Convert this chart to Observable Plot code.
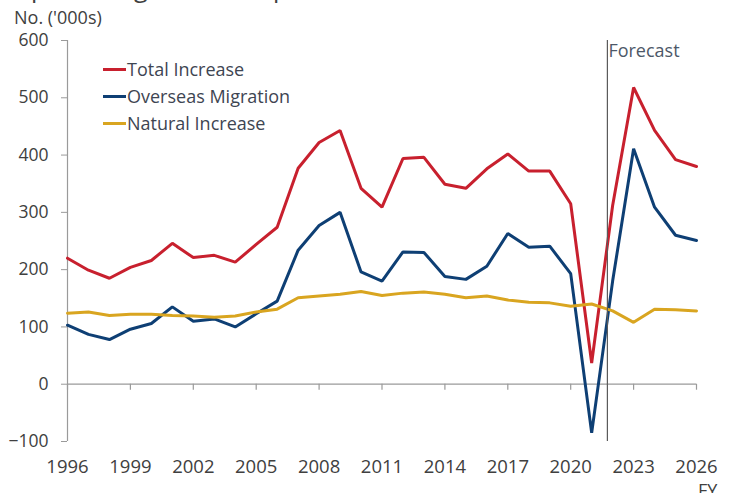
<!DOCTYPE html>
<html>
<head>
<meta charset="utf-8">
<script src="https://cdn.jsdelivr.net/npm/d3@7"></script>
<script src="https://cdn.jsdelivr.net/npm/@observablehq/plot@0.6"></script>
<style>
  html, body { margin: 0; padding: 0; background: #fff; }
  #wrap { position: relative; width: 729px; height: 493px; overflow: hidden; font-family: "Open Sans", sans-serif; color: #404040; }
  #wrap svg { position: absolute; left: 0; top: 0; }
  .abs { position: absolute; white-space: nowrap; line-height: 1; }
  .leg { position: absolute; display: flex; align-items: center; font-size: 18px; line-height: 1; color: #3e4552; height: 20px; }
  .leg span.sw { display: inline-block; width: 23px; height: 3px; margin-right: 1px; }
</style>
</head>
<body>
<div id="wrap"></div>
<script>
const years = [1996,1997,1998,1999,2000,2001,2002,2003,2004,2005,2006,2007,2008,2009,2010,2011,2012,2013,2014,2015,2016,2017,2018,2019,2020,2021,2022,2023,2024,2025,2026];
const totalIncrease = [220,199,185,204,216,246,221,225,213,244,274,377,422,443,342,309,394,396,349,342,376,402,372,372,315,37,312,518,443,392,380];
const overseasMigration = [103,87,78,96,106,135,110,114,100,123,145,234,277,300,196,180,231,230,188,183,206,263,239,241,193,-85,180,411,309,260,251];
const naturalIncrease = [124,126,120,122,122,120,119,117,119,126,131,151,154,157,162,155,159,161,157,151,154,147,143,142,136,140,128,108,131,130,128];
const seriesNames = ["Total Increase", "Overseas Migration", "Natural Increase"];
const seriesColors = ["#C8202E", "#0E3F74", "#D9A520"];
const xTicks = [1996,1999,2002,2005,2008,2011,2014,2017,2020,2023,2026];
const yTicks = [-100,0,100,200,300,400,500,600];
const forecastStart = [2021.75];
const forecastLabel = ["Forecast"];

const seriesValues = [totalIncrease, overseasMigration, naturalIncrease];
const data = [];
seriesNames.forEach((name, s) => years.forEach((yr, i) => data.push({series: name, year: yr, value: seriesValues[s][i]})));

const plot = Plot.plot({
  width: 729,
  height: 493,
  marginLeft: 67,
  marginRight: 33,
  marginTop: 40,
  marginBottom: 52,
  style: {fontFamily: "Open Sans, sans-serif", fontSize: "18px", color: "#404040", background: "transparent"},
  x: {domain: [1996, 2026]},
  y: {domain: [-100, 600]},
  color: {domain: seriesNames, range: seriesColors},
  marks: [
    Plot.axisY({ticks: yTicks, tickSize: 6, tickPadding: 13, stroke: "#9a9a9a", fill: "#404040", label: null, fontSize: 17.5}),
    Plot.axisX({ticks: xTicks, tickSize: 0, tickPadding: 18, tickFormat: d => String(d), fill: "#404040", label: null, fontSize: 18.5}),
    Plot.ruleX([1996], {stroke: "#9a9a9a", strokeWidth: 1.2}),
    Plot.ruleY([0], {stroke: "#9a9a9a", strokeWidth: 1.2}),
    Plot.ruleX(xTicks, {y1: 0, y2: 0, insetBottom: -6, stroke: "#9a9a9a", strokeWidth: 1.2}),
    Plot.line(data, {x: "year", y: "value", z: "series", stroke: "series", strokeWidth: 3, strokeLinejoin: "miter"}),
    Plot.ruleX(forecastStart, {stroke: "#5a5a5a", strokeWidth: 1.2}),
    Plot.text(forecastLabel, {x: forecastStart, frameAnchor: "top", textAnchor: "start", lineAnchor: "top", dx: 1, dy: 4, fontSize: 18, fill: "#4d5868"})
  ]
});

const wrap = document.getElementById("wrap");
wrap.appendChild(plot);

const title = document.createElement("div");
title.className = "abs";
title.textContent = "Population growth components";
title.style.cssText = "left:1px; top:-25px; font-size:25px; color:#404040;";
wrap.appendChild(title);

const ylab = document.createElement("div");
ylab.className = "abs";
ylab.textContent = "No. ('000s)";
ylab.style.cssText = "left:14px; top:8px; font-size:18px; color:#404040;";
wrap.appendChild(ylab);

const fy = document.createElement("div");
fy.className = "abs";
fy.textContent = "FY";
fy.style.cssText = "left:698px; top:481px; font-size:18px; color:#404040;";
wrap.appendChild(fy);

seriesNames.forEach((name, i) => {
  const d = document.createElement("div");
  d.className = "leg";
  d.style.left = "103px";
  d.style.top = (59 + i * 27) + "px";
  const sw = document.createElement("span");
  sw.className = "sw";
  sw.style.background = seriesColors[i];
  d.appendChild(sw);
  const t = document.createElement("span");
  t.textContent = name;
  d.appendChild(t);
  wrap.appendChild(d);
});
</script>
</body>
</html>
